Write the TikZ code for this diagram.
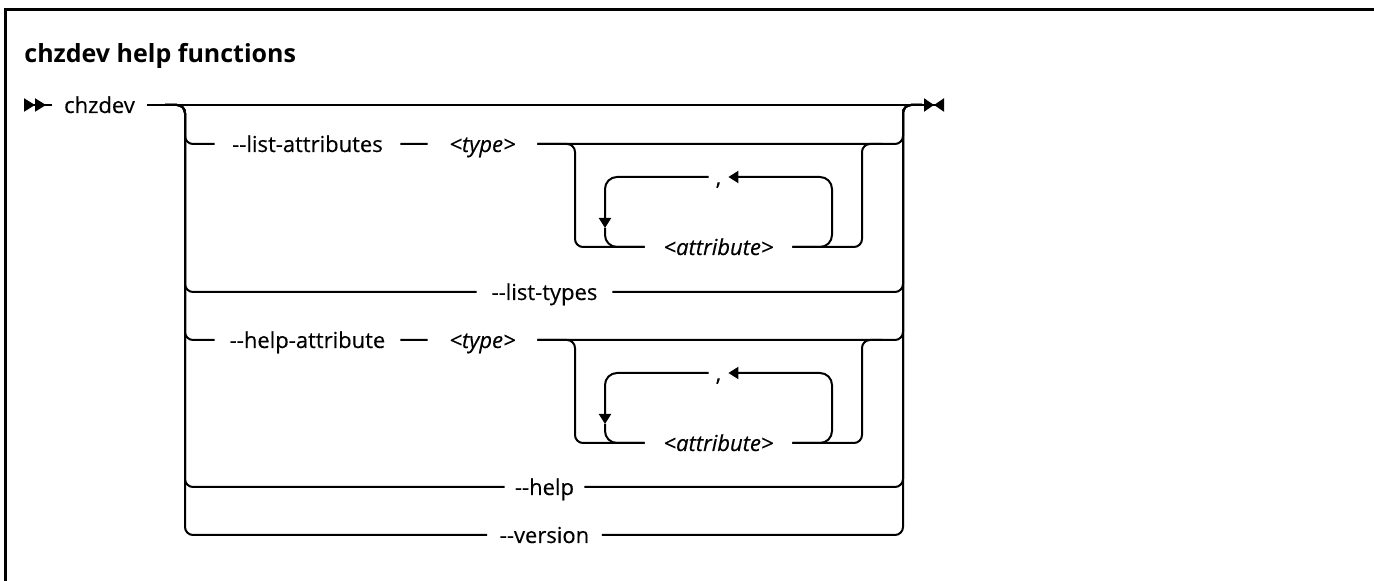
\documentclass[tikz,border=0pt]{standalone}
\usepackage{fontspec}
\setmainfont{Open Sans}
\newfontfamily\railfont{Open Sans}[FakeBold=0.35]
\usetikzlibrary{arrows.meta}

\tikzset{
  rail/.style={line width=1pt, rounded corners=4pt},
  repeatline/.style={rail, rounded corners=6pt},
  looparrow/.style={-{Triangle[length=5pt,width=6pt]}},
  term/.style={inner sep=0pt, text height=8pt, text depth=0pt, font=\railfont\fontsize{11}{13}\selectfont},
  var/.style={term, font=\railfont\fontsize{11}{13}\selectfont\itshape},
}

\begin{document}
\begin{tikzpicture}[x=0.5pt, y=-0.5pt]
\useasboundingbox (0,0) rectangle (1374,581);

% Frame
\draw[line width=1.5pt] (5,581) -- (5,10) -- (1374,10);

% Title
\node[anchor=base west, inner sep=0pt, font=\fontsize{12.5}{15}\selectfont\bfseries] (title) at (24,63) {chzdev help functions};

% Main line
\coordinate (begin) at (24,105);
\coordinate (split) at (165,105);
\coordinate (railL) at (185,105);
\coordinate (railR) at (903,105);
\coordinate (merge) at (922,105);
\coordinate (fin) at (944,105);

\node[term, minimum width=47.5pt] (chz) at (99.5,105) {chzdev};

\draw[rail, {Triangle[reversed,length=5.5pt,width=6.5pt] Triangle[reversed,length=5.5pt,width=6.5pt]}-] (begin) -- (chz.west);
\draw[rail, -{Triangle[length=5pt,width=6.5pt] Triangle[reversed,length=5pt,width=6.5pt]}] (chz.east) -- (fin);

% Options with a repeated attribute list
\foreach \kw/\y [count=\n] in {-{}-list-attributes/144, -{}-help-attribute/340} {
  \node[term, minimum width=92.5pt] (kw\n) at (307.5,\y) {\kw};
  \node[var, minimum width=54.5pt] (ty\n) at (482.5,\y) {<type>};
  \node[var, minimum width=73.5pt] (at\n) at (718.5,\y+103) {<attribute>};
  \node[term, minimum width=9.5pt] (cm\n) at (718.5,\y+33) {,};
  \coordinate (sa\n) at (575,\y);
  \coordinate (sb\n) at (862,\y);
  \coordinate (sc\n) at (882,\y);
  \coordinate (lp\n) at (832,\y+33);
  \coordinate (dn\n) at (605,\y+84);
  \draw[rail] (split) -- (railL) |- (kw\n.west) (kw\n.east) -- (ty\n.west)
    (ty\n.east) -| (railR) -- (merge);
  \draw[rail] (ty\n.east) -- (sa\n) |- (at\n.west) (at\n.east) -| (sb\n) -- (sc\n);
  \draw[repeatline, looparrow] (at\n.east) -| (lp\n) -- (cm\n.east);
  \draw[repeatline, looparrow] (cm\n.west) -| (dn\n);
  \draw[repeatline] (dn\n) |- (at\n.west);
}

% Plain options
\foreach \kw/\y/\w [count=\n] in {-{}-list-types/292/67.5pt, -{}-help/487/39.5pt, -{}-version/535/57pt} {
  \node[term, minimum width=\w] (op\n) at (544.5,\y) {\kw};
  \draw[rail] (split) -- (railL) |- (op\n.west) (op\n.east) -| (railR) -- (merge);
}
\end{tikzpicture}
\end{document}
